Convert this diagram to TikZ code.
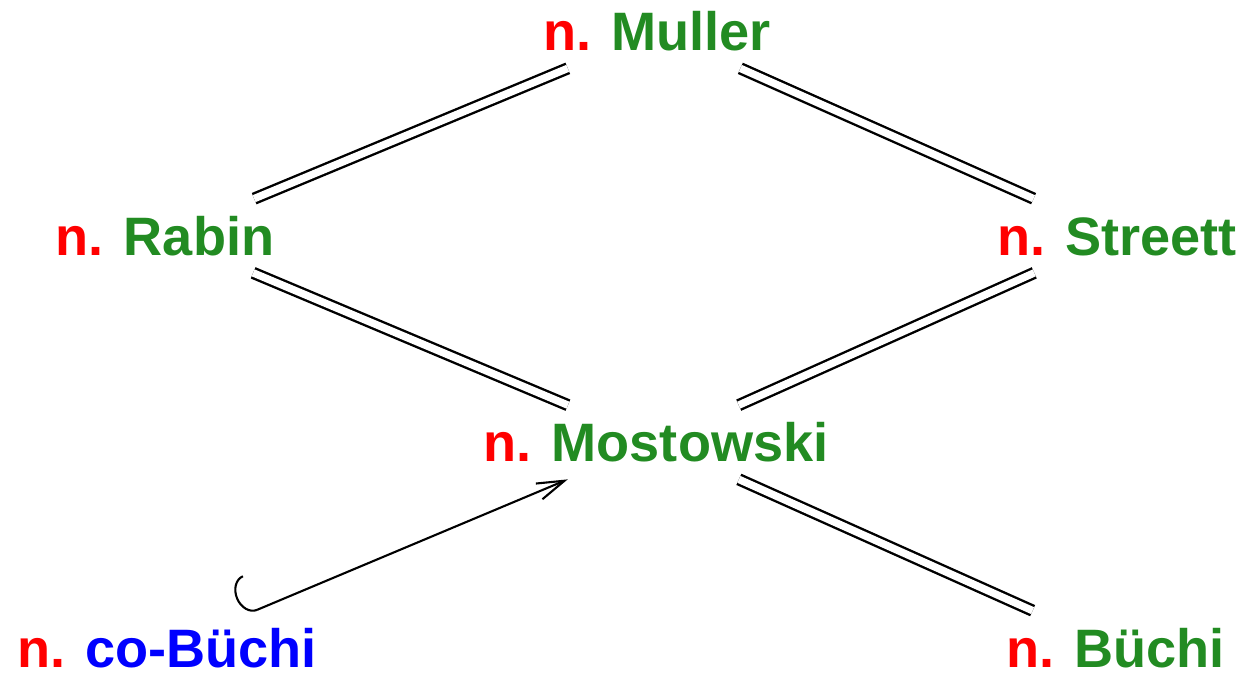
\documentclass[tikz,border=0pt]{standalone}
\usepackage{fontspec}
\setmainfont{Liberation Sans}
\usetikzlibrary{arrows.meta}

\definecolor{nred}{RGB}{255,0,0}
\definecolor{cgreen}{RGB}{34,139,34}
\definecolor{cblue}{RGB}{0,0,255}

\newcommand{\condlab}[2]{\textcolor{nred}{n.} \textcolor{#1}{#2}}

\tikzset{
  cond/.style={inner xsep=4pt, inner ysep=0.346cm, text height=0.778cm, text depth=0cm,
    font=\fontsize{30.8}{36}\selectfont\bfseries},
  equiv/.style={double, double distance=0.15cm, line width=0.048cm},
}

\begin{document}
\begin{tikzpicture}
\useasboundingbox (0,0) rectangle (24.88,-13.48);
\node[cond] (muller) at (13.14,-0.625) {\condlab{cgreen}{Muller}};
\node[cond] (rabin) at (3.3,-4.715) {\condlab{cgreen}{Rabin}};
\node[cond] (streett) at (22.34,-4.715) {\condlab{cgreen}{Streett}};
\node[cond] (mostowski) at (13.12,-8.845) {\condlab{cgreen}{Mostowski}};
\node[cond] (cobuchi) at (3.34,-12.955) {\condlab{cblue}{co-Büchi}};
\node[cond] (buchi) at (22.31,-12.955) {\condlab{cgreen}{Büchi}};
% equivalences
\draw[equiv] (rabin) -- (muller);
\draw[equiv] (muller) -- (streett);
\draw[equiv] (rabin) -- (mostowski);
\draw[equiv] (streett) -- (mostowski);
\draw[equiv] (mostowski) -- (buchi);
% inclusion
\draw[line width=0.042cm, shorten <=-0.26cm, {Hooks[right,length=0.3cm,width=1.5cm]}-{Straight Barb[length=0.55cm,width=0.34cm]}] (cobuchi) -- (mostowski);
\end{tikzpicture}
\end{document}
